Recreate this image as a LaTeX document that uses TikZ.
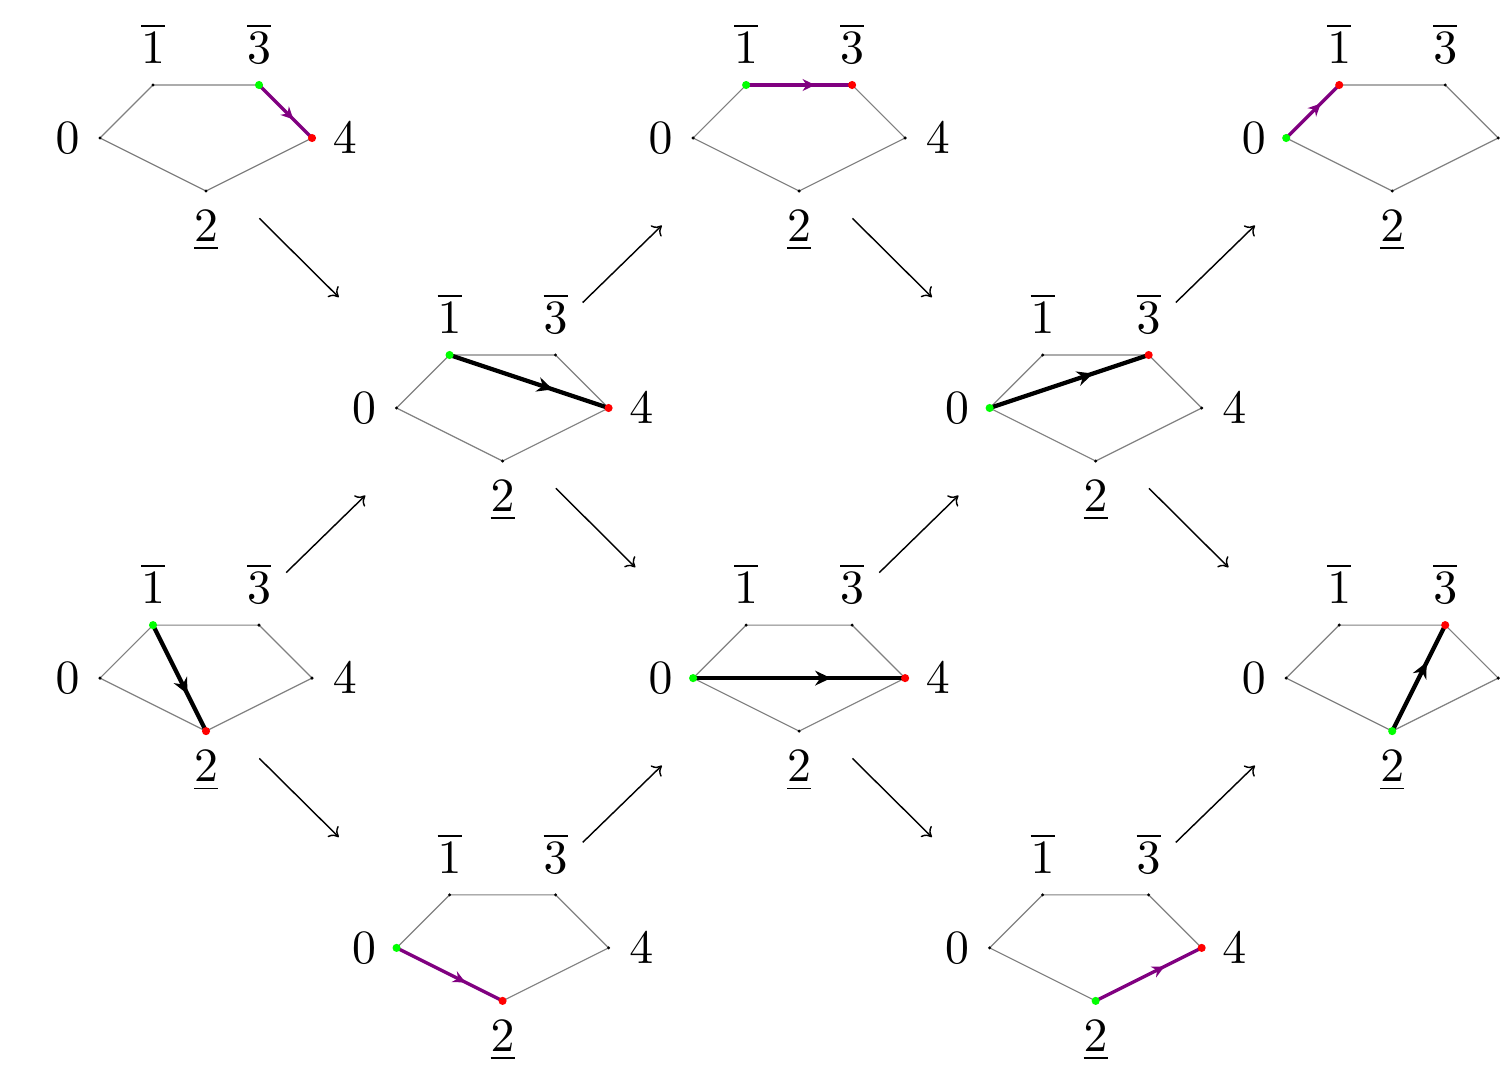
\documentclass[tikz,border=0pt]{standalone}
\usepackage{tikz}
\usetikzlibrary{arrows.meta, calc, decorations.markings}

% one pentagon: name, centre
\newcommand{\pentagon}[2]{%
    \begin{scope}[shift={(#2)}]
        \coordinate (#1-0) at (-2,0);
        \coordinate (#1-1) at (-1,1);
        \coordinate (#1-3) at (1,1);
        \coordinate (#1-4) at (2,0);
        \coordinate (#1-2) at (0,-1);
        \coordinate (#1-se) at (1.006,-1.515);
        \coordinate (#1-ne) at (1.512,1.99);
        \coordinate (#1-nw) at (-3.09,2.09);
        \coordinate (#1-sw) at (-2.59,-1.65);
        \node[vlabel] (#1-l0) at (-2.613,-0.29) {$0$};
        \node[vlabel] (#1-l1) at (-1,1.41) {$\overline{1}$};
        \node[vlabel] (#1-l3) at (1,1.41) {$\overline{3}$};
        \node[vlabel] (#1-l2) at (0,-1.957) {$\underline{2}$};
    \end{scope}
    \draw[side] (#1-0) -- (#1-1) -- (#1-3) -- (#1-4) -- (#1-2) -- cycle;
    \foreach \v in {0,1,3,4,2}
        \fill (#1-\v) circle (0.35pt);
}

% a move inside a pentagon: style, from, to
\newcommand{\move}[3]{%
    \draw[#1] (#2) -- (#3);
    \fill[green] (#2) circle (0.85pt);
    \fill[red] (#3) circle (0.85pt);
}

\begin{document}
\begin{tikzpicture}[
        x=0.39cm, y=0.39cm,
        vlabel/.style={anchor=base, inner sep=0pt},
        side/.style={draw=gray, line width=0.25pt},
        link/.style={-{To[length=1.8pt,width=3.2pt]}, line width=0.3pt},
        chord/.style={
            line width=0.9pt,
            decoration={markings, mark=at position 0.65 with {\arrow{Stealth[length=3.3pt,width=3.1pt]}}},
            postaction={decorate}
        },
        rim/.style={
            violet,
            line width=0.7pt,
            decoration={markings, mark=at position 0.65 with {\arrow{Stealth[length=2.6pt,width=2.5pt]}}},
            postaction={decorate}
        }
    ]
    \useasboundingbox (-3.887,-17.49) rectangle (24.64,2.604);

    % Pentagons
    \pentagon{p11}{0,0}
    \pentagon{p13}{11.19,0}
    \pentagon{p15}{22.38,0}
    \pentagon{p22}{5.595,-5.094}
    \pentagon{p24}{16.785,-5.094}
    \pentagon{p31}{0,-10.19}
    \pentagon{p33}{11.19,-10.19}
    \pentagon{p35}{22.38,-10.19}
    \pentagon{p42}{5.595,-15.28}
    \pentagon{p44}{16.785,-15.28}
    \foreach \p in {p11,p13,p22,p24,p31,p33,p42,p44}
        \node[vlabel] (\p-l4) at ($(\p-4)+(0.617,-0.29)$) {$4$};

    % Moves
    \move{rim}{p11-3}{p11-4}
    \move{rim}{p13-1}{p13-3}
    \move{rim}{p15-0}{p15-1}
    \move{chord}{p22-1}{p22-4}
    \move{chord}{p24-0}{p24-3}
    \move{chord}{p31-1}{p31-2}
    \move{chord}{p33-0}{p33-4}
    \move{chord}{p35-2}{p35-3}
    \move{rim}{p42-0}{p42-2}
    \move{rim}{p44-2}{p44-4}

    % Arrows
    \draw[link] (p11-se) -- (p22-nw);
    \draw[link] (p22-ne) -- (p13-sw);
    \draw[link] (p13-se) -- (p24-nw);
    \draw[link] (p24-ne) -- (p15-sw);
    \draw[link] (p31-ne) -- (p22-sw);
    \draw[link] (p22-se) -- (p33-nw);
    \draw[link] (p33-ne) -- (p24-sw);
    \draw[link] (p24-se) -- (p35-nw);
    \draw[link] (p31-se) -- (p42-nw);
    \draw[link] (p42-ne) -- (p33-sw);
    \draw[link] (p33-se) -- (p44-nw);
    \draw[link] (p44-ne) -- (p35-sw);

\end{tikzpicture}
\end{document}
